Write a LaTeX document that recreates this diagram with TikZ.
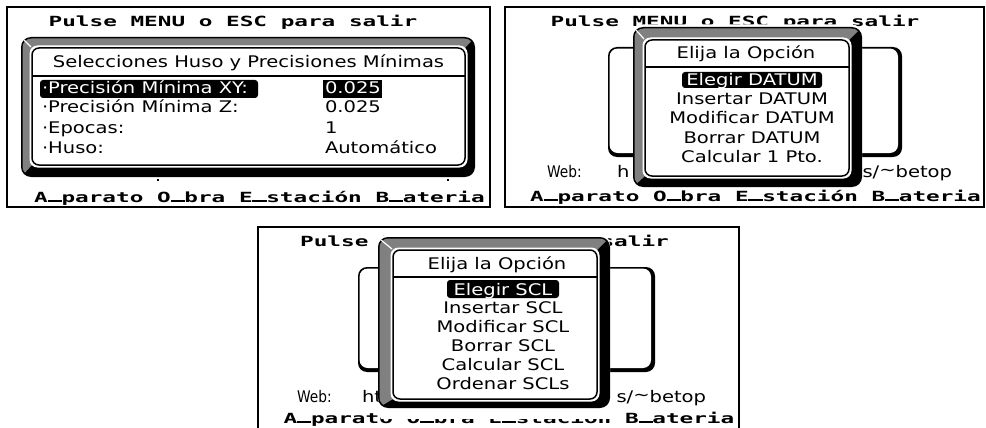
\documentclass[tikz,border=0pt]{standalone}
\usepackage{fontspec}
\usepackage{graphicx}
\setmainfont{DejaVu Sans}
\newfontfamily\hdrfont{DejaVu Sans Mono}
\definecolor{lcdgray}{RGB}{128,128,128}
\newcommand\us{\makebox[0.602em][c]{\rule[0.01em]{0.62em}{0.13em}}}
\newcommand\hdr[1]{{\hdrfont\bfseries\fontsize{14}{14}\selectfont\scalebox{1.62}[1]{#1}}}
\newcommand\lcd[1]{{\fontsize{16}{16}\selectfont\scalebox{1.22}[1]{#1}}}
\newcommand\lcdn[1]{{\fontsize{16}{16}\selectfont\scalebox{0.86}[1]{#1}}}
% outer x1 y1 x2 y2, inner x1 y1 x2 y2
\newcommand\bevelframe[8]{%
  \fill[white, rounded corners=10] (#1,#2-2.5) rectangle (#3,#4);
  \fill[black, rounded corners=10] (#1,#2) rectangle (#3,#4);
  \begin{scope}
    \clip (#1,#2) -- (#3,#2) -- (#7,#6) -- (#5,#8) -- (#1,#4) -- cycle;
    \fill[lcdgray, rounded corners=9] (#1+1.5,#2+1.5) rectangle (#3-1.5,#4-1.5);
  \end{scope}
  \draw[white, line width=1.2] (#1+3,#2+3) -- (#5-1,#6-1);
  \fill[white, rounded corners=8] (#5-2.5,#6-2.5) rectangle (#7+2.5,#8+2.5);
  \draw[black, line width=1.5, rounded corners=7] (#5,#6) rectangle (#7,#8);
}
\newcommand\shadowbox[4]{%
  \fill[black, rounded corners=9] (#1,#2) rectangle (#3,#4);
  \fill[white, rounded corners=8] (#1+1.6,#2+1.6) rectangle (#3-4,#4-4);
}
\begin{document}
\begin{tikzpicture}[x=1pt,y=-1pt,
  txt/.style={inner sep=0, outer sep=0},
  hl/.style={fill=black, rounded corners=3},
  sepline/.style={black, line width=1.5},
  panel/.style={black, line width=2.4}]
\useasboundingbox (0,0) rectangle (986,428);
\fill[white] (0,0) rectangle (986,428);

% ---------------- Panel 1 ----------------
\draw[panel] (7,7) rectangle (490,207);
\node[txt, anchor=base] (p1head) at (233,27) {\hdr{Pulse MENU o ESC para salir}};
\bevelframe{21}{37}{475}{177}{32}{48}{465}{165}
\node[txt, anchor=base] (p1title) at (248.5,68) {\lcd{Selecciones Huso y Precisiones Mínimas}};
\draw[sepline] (32,76) -- (465,76);
\fill[hl] (40,80) rectangle (258,98);
\fill[black] (323,80) rectangle (382,98);
\node[txt, anchor=base west, text=white] (p1r1) at (42,93) {\lcd{·Precisión Mínima XY:}};
\node[txt, anchor=base west, text=white] (p1v1) at (325,93) {\lcd{0.025}};
\node[txt, anchor=base west] (p1r2) at (42,113) {\lcd{·Precisión Mínima Z:}};
\node[txt, anchor=base west] (p1v2) at (325,113) {\lcd{0.025}};
\node[txt, anchor=base west] (p1r3) at (42,133) {\lcd{·Epocas:}};
\node[txt, anchor=base west] (p1v3) at (325,133) {\lcd{1}};
\node[txt, anchor=base west] (p1r4) at (42,153) {\lcd{·Huso:}};
\node[txt, anchor=base west] (p1v4) at (325,153) {\lcd{Automático}};
\fill[black] (157,179) rectangle (159,181);
\fill[black] (447,179) rectangle (449,181);
\node[txt, anchor=base] (p1menu) at (259.5,202) {\hdr{A\us parato O\us bra E\us stación B\us ateria}};

% ---------------- Panel 2 ----------------
\draw[panel] (505,7) rectangle (984,207);
\node[txt, anchor=base] (p2head) at (735,27) {\hdr{Pulse MENU o ESC para salir}};
\shadowbox{608}{47}{902}{157}
\node[txt, anchor=base west] (p2web) at (547,177) {\lcdn{Web:}};
\node[txt, anchor=base west] (p2h) at (617,177) {\lcd{h}};
\node[txt, anchor=base east] (p2url) at (952,177) {\lcd{s/\raisebox{2pt}{\textasciitilde}betop}};
\node[txt, anchor=base] (p2menu) at (755.5,201) {\hdr{A\us parato O\us bra E\us stación B\us ateria}};
\bevelframe{633}{27}{862}{187}{645}{40}{849}{176}
\node[txt, anchor=base] (p2title) at (746,59) {\lcd{Elija la Opción}};
\draw[sepline] (645,67) -- (849,67);
\fill[hl] (682,72) rectangle (822,88);
\node[txt, anchor=base, text=white] (p2i1) at (752,85) {\lcd{Elegir DATUM}};
\node[txt, anchor=base] (p2i2) at (752,104) {\lcd{Insertar DATUM}};
\node[txt, anchor=base] (p2i3) at (752,123) {\lcd{Modificar DATUM}};
\node[txt, anchor=base] (p2i4) at (752,143) {\lcd{Borrar DATUM}};
\node[txt, anchor=base] (p2i5) at (752,162) {\lcd{Calcular 1 Pto.}};

% ---------------- Panel 3 ----------------
\draw[panel] (258,432) -- (258,227) -- (739,227) -- (739,432);
\node[txt, anchor=base] (p3head) at (484.5,246) {\hdr{Pulse MENU o ESC para salir}};
\shadowbox{358}{267}{655}{372}
\node[txt, anchor=base west] (p3web) at (297,402) {\lcdn{Web:}};
\node[txt, anchor=base west] (p3h) at (362,402) {\lcd{ht}};
\node[txt, anchor=base east] (p3url) at (706,402) {\lcd{s/\raisebox{2pt}{\textasciitilde}betop}};
\node[txt, anchor=base] (p3menu) at (509,423) {\hdr{A\us parato O\us bra E\us stación B\us ateria}};
\fill[white] (381,396) rectangle (612,419);
\bevelframe{378}{237}{610}{408}{393}{250}{597}{399}
\node[txt, anchor=base] (p3title) at (497,269) {\lcd{Elija la Opción}};
\draw[sepline] (393,277) -- (597,277);
\fill[hl] (447,280) rectangle (559,298);
\node[txt, anchor=base, text=white] (p3i1) at (503,295) {\lcd{Elegir SCL}};
\node[txt, anchor=base] (p3i2) at (503,313) {\lcd{Insertar SCL}};
\node[txt, anchor=base] (p3i3) at (503,332) {\lcd{Modificar SCL}};
\node[txt, anchor=base] (p3i4) at (503,351) {\lcd{Borrar SCL}};
\node[txt, anchor=base] (p3i5) at (503,370) {\lcd{Calcular SCL}};
\node[txt, anchor=base] (p3i6) at (503,389) {\lcd{Ordenar SCLs}};
\end{tikzpicture}
\end{document}
